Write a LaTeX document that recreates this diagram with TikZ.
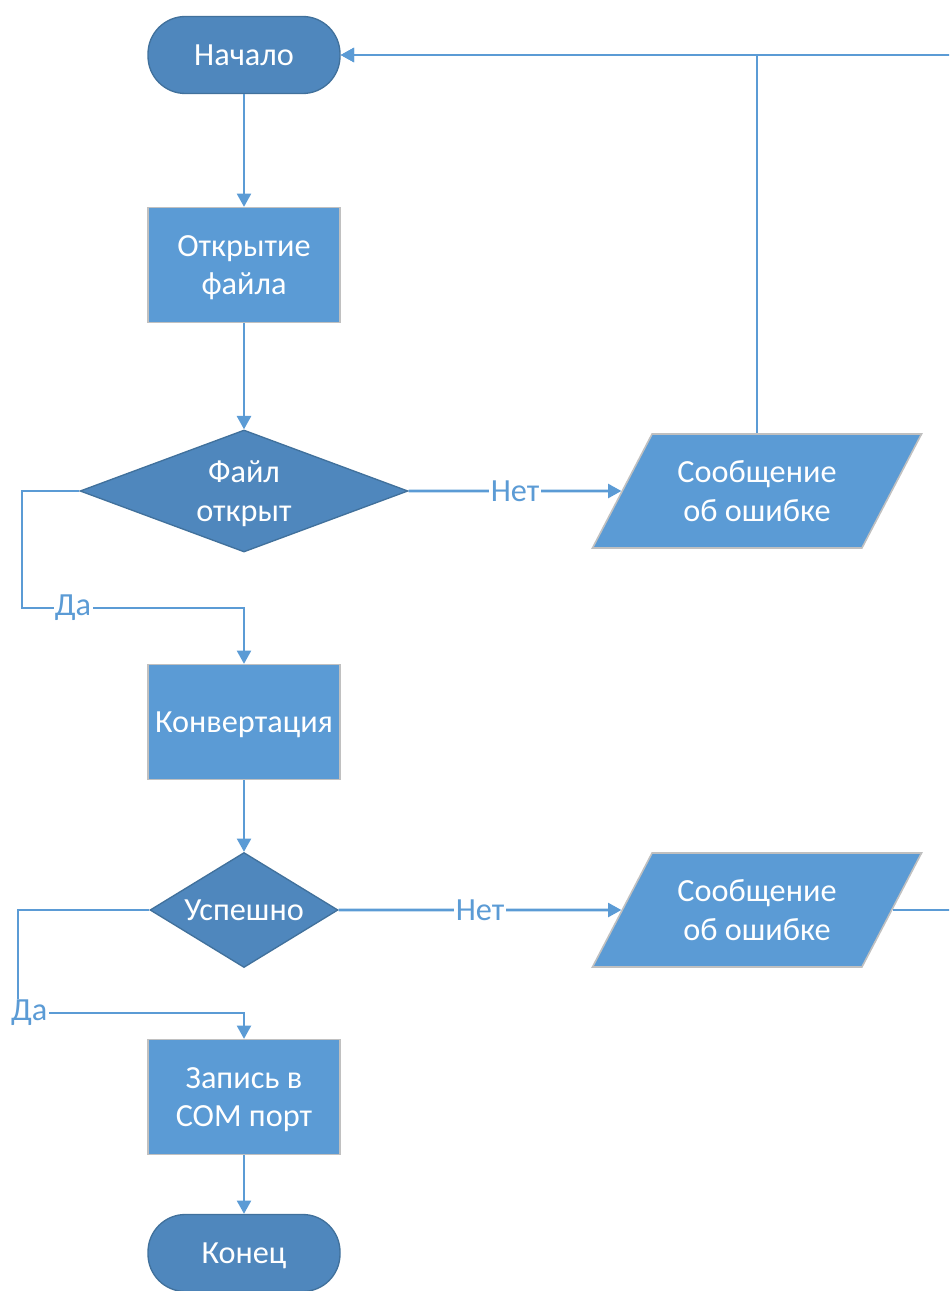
\documentclass[tikz,border=0pt]{standalone}
\usepackage{fontspec}
\setmainfont{Carlito}
\usepackage{xcolor}
\usepackage{tikz}
\usetikzlibrary{shapes.geometric, arrows.meta}
\definecolor{fillblue}{HTML}{5B9BD5}
\definecolor{darkblue}{HTML}{4F87BD}
\definecolor{edgeblue}{HTML}{41719C}
\definecolor{edgegray}{HTML}{C0C0C0}
\tikzstyle{base} = [text=white, align=center, inner sep=0pt, text depth=0pt, font=\fontsize{24.2}{29}\selectfont]
\tikzstyle{term} = [base, rectangle, rounded corners=28pt, minimum width=144pt, minimum height=57.75pt, fill=darkblue, draw=edgeblue, line width=1pt]
\tikzstyle{process} = [base, rectangle, minimum width=144pt, minimum height=86pt, fill=fillblue, draw=edgegray, line width=1.2pt]
\tikzstyle{decision} = [base, diamond, fill=darkblue, draw=edgeblue, line width=1pt]
\tikzstyle{io} = [base, trapezium, trapezium left angle=45.5, trapezium right angle=134.5, trapezium stretches body, minimum width=246.75pt, minimum height=85.5pt, fill=fillblue, draw=edgegray, line width=1.2pt]
\tikzstyle{arrow} = [line width=1.9pt, draw=fillblue, -{Triangle[length=10pt, width=10.5pt]}]
\tikzstyle{lbl} = [fill=white, text=fillblue, inner sep=1pt, font=\fontsize{24.2}{29}\selectfont]

\begin{document}
\begin{tikzpicture}[x=0.75pt, y=-0.75pt]
\path[use as bounding box, clip] (0,0) rectangle (949,1291);

% Основные узлы
\node (start) [term] at (244,55) {Начало};
\node (openfile) [process] at (244,265) {Открытие\\файла};
\node (isopen) [decision, minimum width=246pt, minimum height=91.5pt, aspect=2.69] at (244,491) {Файл\\открыт};
\node (error1) [io] at (757,491) {Сообщение\\об ошибке};
\node (convert) [process] at (244,722) {Конвертация};
\node (success) [decision, minimum width=141pt, minimum height=86.25pt, aspect=1.63] at (244,910) {Успешно};
\node (error2) [io] at (757,910) {Сообщение\\об ошибке};
\node (write) [process] at (244,1097) {Запись в\\COM порт};
\node (finish) [term] at (244,1253) {Конец};

\coordinate (yes1) at (22,608);
\coordinate (yes2) at (18,1013);
\coordinate (loop) at (965,490);

% Стрелки и подписи
\draw [arrow] (start) -- (openfile);
\draw [arrow] (openfile) -- (isopen);
\draw [arrow] (isopen.east) -- node[lbl, midway] {Нет} (error1.west);
\draw [arrow] (error1.north) |- (start.east);
\draw [arrow] (isopen.west) -| (yes1) -- node[lbl, pos=0.23] {Да} (yes1 -| convert.north) -- (convert.north);

\draw [arrow] (convert) -- (success);
\draw [arrow] (success.east) -- node[lbl, midway] {Нет} (error2.west);
\draw [arrow] (error2.east) -| (loop) |- (start.east);
\draw [arrow] (success.west) -| (yes2) -- node[lbl, pos=0.05] {Да} (yes2 -| write.north) -- (write.north);
\draw [arrow] (write) -- (finish);

\end{tikzpicture}
\end{document}
